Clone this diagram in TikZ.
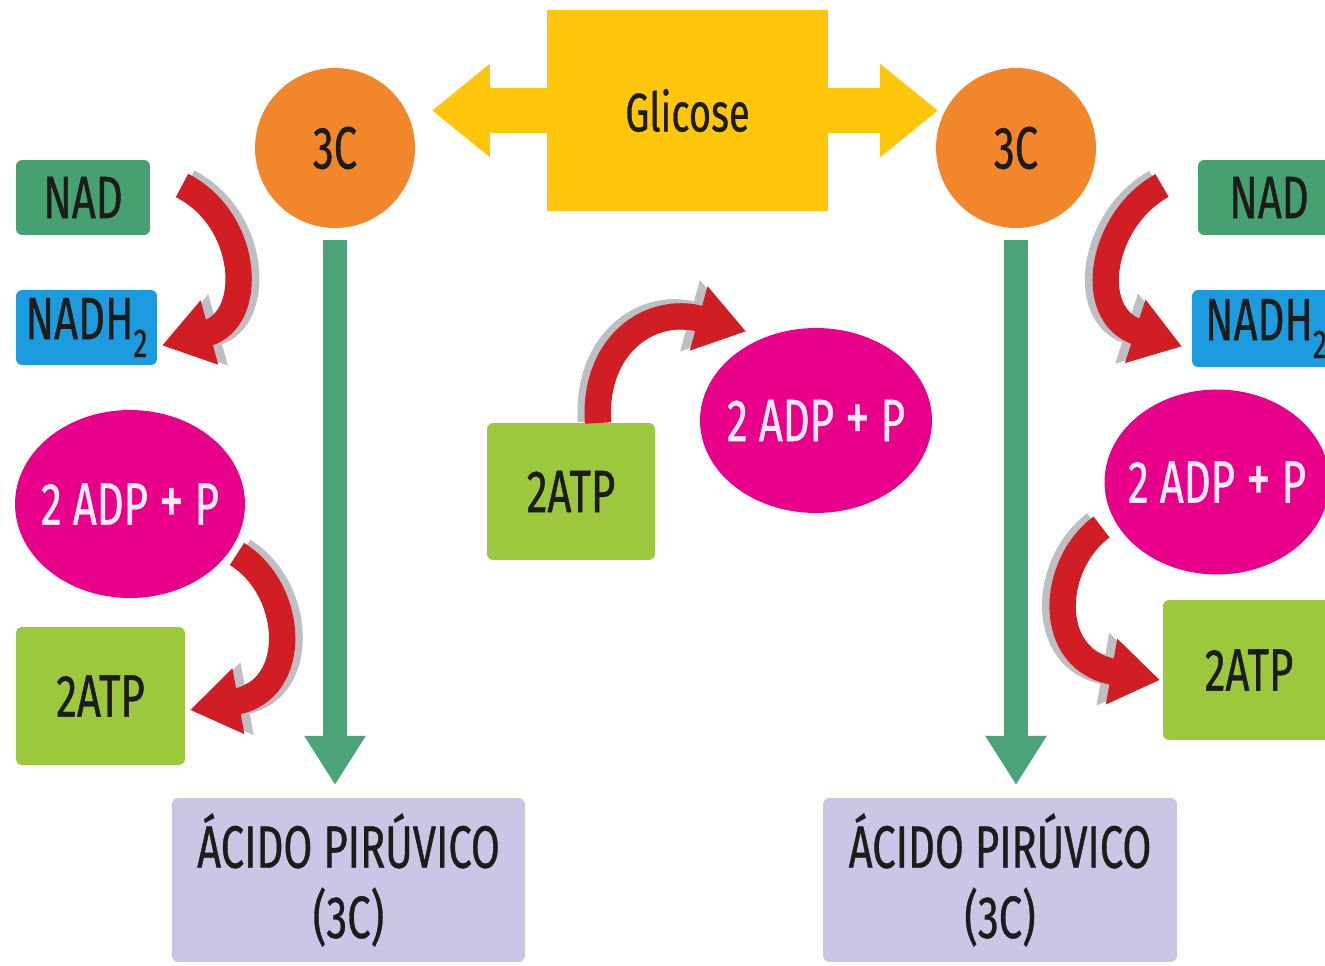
\documentclass[tikz,border=0pt]{standalone}
\usepackage{fontspec}
\setmainfont{Fira Sans}[FakeStretch=0.7,FakeBold=0.6]
\usetikzlibrary{arrows.meta,calc,shapes.geometric}
\definecolor{cYellow}{RGB}{255,198,12}
\definecolor{cOrange}{RGB}{241,135,42}
\definecolor{cNad}{RGB}{70,160,112}
\definecolor{cNadh}{RGB}{28,155,222}
\definecolor{cMag}{RGB}{232,0,138}
\definecolor{cLime}{RGB}{156,200,62}
\definecolor{cLav}{RGB}{201,198,230}
\definecolor{cGreen}{RGB}{76,163,122}
\definecolor{cRed}{RGB}{208,30,36}
\definecolor{cShadow}{RGB}{190,190,195}
\definecolor{cTxt}{RGB}{28,28,26}
\definecolor{cWTxt}{RGB}{255,235,245}
\newcommand{\subtwo}{\raisebox{-0.3em}{\fontsize{23}{23}\selectfont 2}}
\newcommand{\adptext}{\makebox[0pt]{2 ADP {\fontsize{40}{40}\selectfont +} P}}
\begin{document}
\begin{tikzpicture}[x=0.02cm,y=-0.02cm,
  lbl/.style={font=\fontsize{34}{40}\selectfont, text=cTxt, inner sep=0pt, outer sep=0pt},
  rbox/.style={lbl, rectangle, rounded corners=3.5pt, fill=#1},
  oval/.style={lbl, ellipse, fill=cMag, text=cWTxt},
  yarrow/.style={draw=cYellow, line width=25.5pt, -{Triangle[length=33pt,width=51pt]}},
  garrow/.style={draw=cGreen, line width=13.6pt, -{Triangle[length=28pt,width=33pt]}},
  rarrow/.style={draw=cRed, line width=15pt, -{Triangle[length=28pt,width=36pt]}},
  sarrow/.style={draw=cShadow, line width=17pt, -{Triangle[length=30pt,width=40pt]}},
]
\useasboundingbox (0,0) rectangle (1325,966);
\clip (0,0) rectangle (1325,966);
\fill[white] (0,0) rectangle (1325,966);

% nodes
\node[rbox=cYellow, rounded corners=0pt, minimum width=5.62cm, minimum height=4.04cm, font=\fontsize{31}{36}\selectfont] (glic) at (687.5,110.5) {Glicose};
\node[lbl, circle, fill=cOrange, minimum size=3.2cm] (c3L) at (335,148) {3C};
\node[lbl, circle, fill=cOrange, minimum size=3.2cm] (c3R) at (1016,148) {3C};

\node[rbox=cNad, minimum width=2.68cm, minimum height=1.5cm] (nadL) at (83,197.5) {NAD};
\node[rbox=cNadh, minimum width=2.82cm, minimum height=1.5cm] (nadhL) at (86.5,327.5) {NADH\subtwo};
\node[oval, minimum width=4.6cm, minimum height=3.76cm] (adpL) at (130,504) {\adptext};
\node[rbox=cLime, minimum width=3.38cm, minimum height=2.76cm] (atpL) at (100.5,696) {2ATP};

\node[rbox=cLime, minimum width=3.36cm, minimum height=2.74cm] (atpC) at (571,491.5) {2ATP};
\node[oval, minimum width=4.64cm, minimum height=3.7cm] (adpC) at (816,420.5) {\adptext};

\node[rbox=cNad, minimum width=2.84cm, minimum height=1.5cm] (nadR) at (1269,197.5) {NAD};
\node[rbox=cNadh, minimum width=2.96cm, minimum height=1.54cm] (nadhR) at (1266,328.5) {NADH\subtwo};
\node[oval, minimum width=4.5cm, minimum height=3.7cm] (adpR) at (1217,482) {\adptext};
\node[rbox=cLime, minimum width=3.44cm, minimum height=2.8cm] (atpR) at (1249,670) {2ATP};

\node[rbox=cLav, minimum width=7.06cm, minimum height=3.28cm, align=center, font=\fontsize{34}{40}\selectfont] (acidL) at (348.5,880) {ÁCIDO PIRÚVICO\\(3C)};
\node[rbox=cLav, minimum width=7.08cm, minimum height=3.28cm, align=center, font=\fontsize{34}{40}\selectfont] (acidR) at (1000,880) {ÁCIDO PIRÚVICO\\(3C)};

% yellow double arrow from glucose
\draw[yarrow] (glic.west) -- ($(c3L.east |- glic.west)+(17,0)$);
\draw[yarrow] (glic.east) -- ($(c3R.west |- glic.east)+(2,0)$);

% green arrows
\draw[garrow, shorten <=6.8pt, shorten >=7.4pt] (c3L.south) -- (acidL.north -| c3L.south);
\draw[garrow, shorten <=6.8pt, shorten >=7.4pt] (c3R.south) -- (acidR.north -| c3R.south);

% red curved arrows: shadows
\begin{scope}[transform canvas={xshift=3pt,yshift=1pt}]
\draw[sarrow] ($(nadL.east)+(32,-12)$) .. controls (250,220) and (255,320) .. ($(nadhL.east)+(5,18)$);
\draw[sarrow] ($(adpL.east)+(-8,50)$) .. controls (295,590) and (300,690) .. ($(atpL.east)+(5,14)$);
\end{scope}
\begin{scope}[transform canvas={xshift=-3pt,yshift=1pt}]
\draw[sarrow] ($(nadR.west)+(-36,-12)$) .. controls (1100,220) and (1085,315) .. ($(nadhR.west)+(-10,18)$);
\draw[sarrow] ($(adpR.west)+(-3,45)$) .. controls (1050,565) and (1045,660) .. ($(atpR.west)+(-3,10)$);
\draw[sarrow] ($(atpC.north)+(27,0)$) .. controls (593,345) and (650,305) .. ($(adpC.140)+(10,-22)$);
\end{scope}

% red curved arrows
\draw[rarrow] ($(nadL.east)+(32,-12)$) .. controls (250,220) and (255,320) .. ($(nadhL.east)+(5,18)$);
\draw[rarrow] ($(adpL.east)+(-8,50)$) .. controls (295,590) and (300,690) .. ($(atpL.east)+(5,14)$);
\draw[rarrow] ($(nadR.west)+(-36,-12)$) .. controls (1100,220) and (1085,315) .. ($(nadhR.west)+(-10,18)$);
\draw[rarrow] ($(adpR.west)+(-3,45)$) .. controls (1050,565) and (1045,660) .. ($(atpR.west)+(-3,10)$);
\draw[rarrow] ($(atpC.north)+(27,0)$) .. controls (593,345) and (650,305) .. ($(adpC.140)+(10,-22)$);
\end{tikzpicture}
\end{document}
